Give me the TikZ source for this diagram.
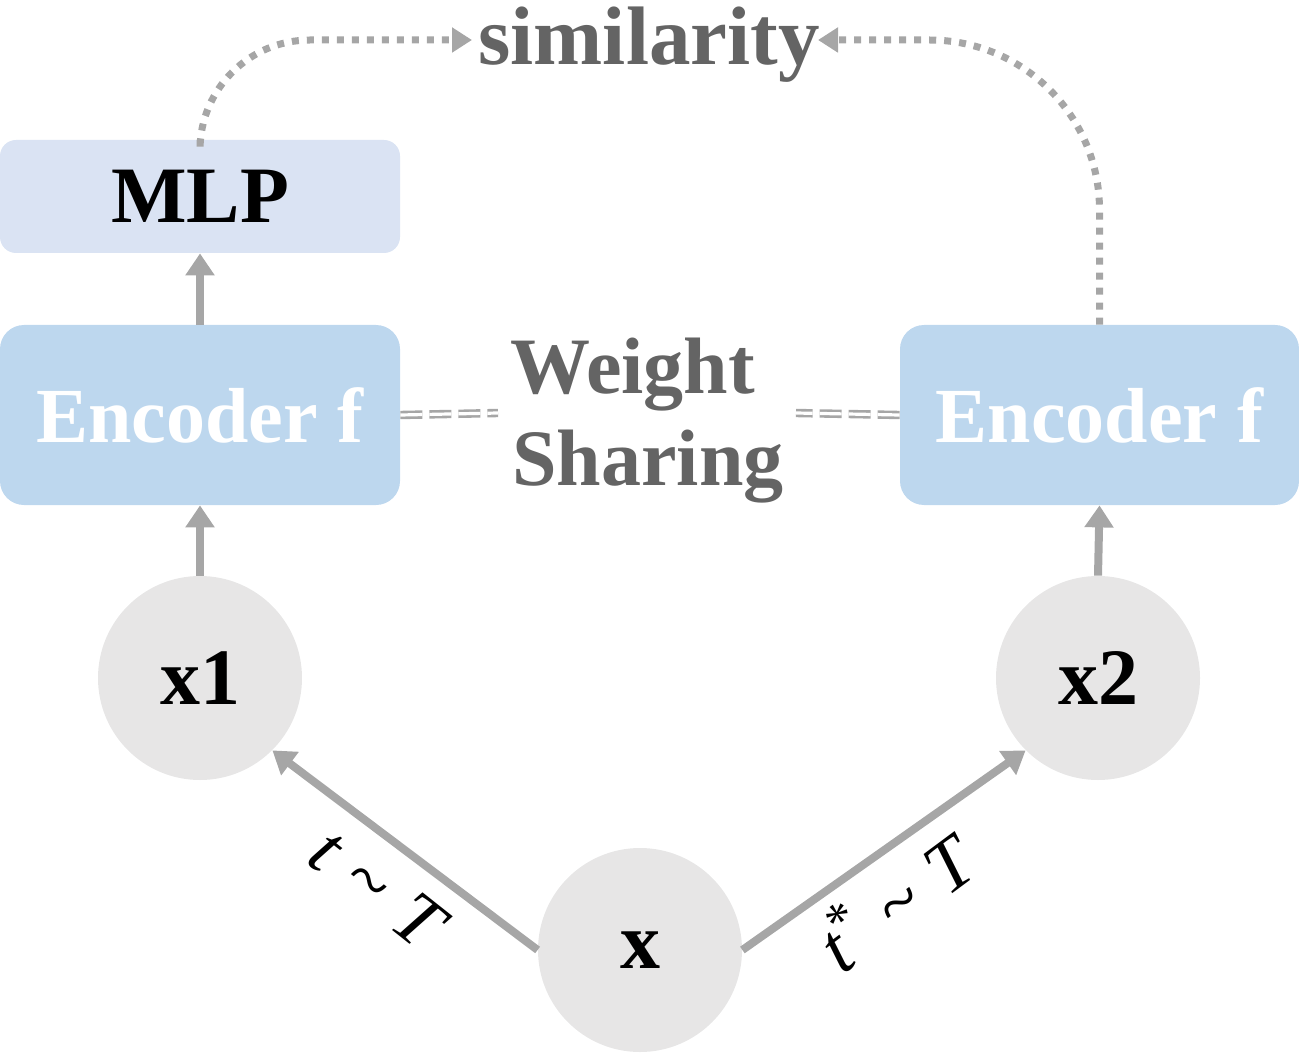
\documentclass[tikz,border=0pt]{standalone}
\usepackage{fontspec}
\setmainfont{Liberation Serif}
\usetikzlibrary{arrows.meta}
\definecolor{arrowgray}{RGB}{166,166,166}
\definecolor{circlefill}{RGB}{231,230,230}
\definecolor{encfill}{RGB}{189,215,238}
\definecolor{mlpfill}{RGB}{218,227,243}
\definecolor{textgray}{RGB}{100,100,100}
\tikzset{
  encbox/.style={fill=encfill, rounded corners=12pt, minimum width=200pt, minimum height=90pt, inner sep=0pt, text=white, font=\bfseries\fontsize{39}{44}\selectfont},
  mlpbox/.style={fill=mlpfill, rounded corners=8pt, minimum width=200pt, minimum height=56.5pt, inner sep=0pt, text=black, font=\bfseries\fontsize{40}{44}\selectfont},
  datanode/.style={circle, fill=circlefill, minimum size=102pt, inner sep=0pt, font=\bfseries\fontsize{40}{44}\selectfont},
  solidarrow/.style={draw=arrowgray, line width=4pt, -{Triangle[length=11pt,width=14pt]}},
  dotarrow/.style={draw=arrowgray, line width=3.5pt, dash pattern=on 3.5pt off 4pt, -{Triangle[length=10pt,width=12pt]}},
  sharelink/.style={draw=arrowgray, line width=1.3pt, double=white, double distance=1.6pt, dash pattern=on 11pt off 3.5pt},
  graytext/.style={text=textgray, font=\bfseries\fontsize{41.5}{46}\selectfont, inner sep=0pt},
  labeltext/.style={font=\itshape\fontsize{37}{40}\selectfont, inner sep=0pt}
}
\begin{document}
\begin{tikzpicture}[x=0.5pt,y=-0.5pt]
\useasboundingbox (0,0) rectangle (1299,1053);
% boxes
\node[mlpbox] (mlp) at (200,196.5) {MLP};
\node[encbox] (encL) at (200,415) {Encoder f};
\node[encbox, minimum width=199.5pt] (encR) at (1099.5,415) {Encoder f};
% circles
\node[datanode] (x1) at (200,678) {x1};
\node[datanode] (x2) at (1098,678) {x2};
\node[datanode] (x) at (640,950) {x};
% texts
\node[graytext, anchor=base] (sim) at (649,65) {similarity};
\node[graytext, font=\bfseries\fontsize{40}{46}\selectfont, anchor=base west] (wsA) at (510,393) {Weight};
\node[graytext, font=\bfseries\fontsize{40}{46}\selectfont, anchor=base west] (wsB) at (512,485) {Sharing};
% coordinates for free ends
\coordinate (simL) at (472,40);
\coordinate (simR) at (818,40);
\coordinate (shareL) at (498,413);
\coordinate (shareR) at (796,413);
% solid arrows
\draw[solidarrow] (encL.north) -- (mlp.south);
\draw[solidarrow] (x1.north) -- (encL.south);
\draw[solidarrow] (x2.north) -- (encR.south);
\draw[solidarrow] (x.west) -- (x1.south east);
\draw[solidarrow] (x.east) -- (x2.south west);
% dotted arrows
\draw[dotarrow, rounded corners=55pt] (mlp.north) |- (simL);
\draw[dotarrow, rounded corners=85pt] (encR.north) |- (simR);
% weight sharing links
\draw[sharelink] (encL.east) -- (shareL);
\draw[sharelink] (encR.west) -- (shareR);
% labels
\node[labeltext, rotate=-38.4] (lblL) at (377,888) {t\hspace{0.3em}{\upshape\textasciitilde}\hspace{0.3em}T};
\node[labeltext, rotate=36.6] (lblR) at (893,900) {t\raisebox{0.38em}{\upshape\fontsize{26}{28}\selectfont*}\hspace{0.3em}{\upshape\textasciitilde}\hspace{0.3em}T};
\end{tikzpicture}
\end{document}
